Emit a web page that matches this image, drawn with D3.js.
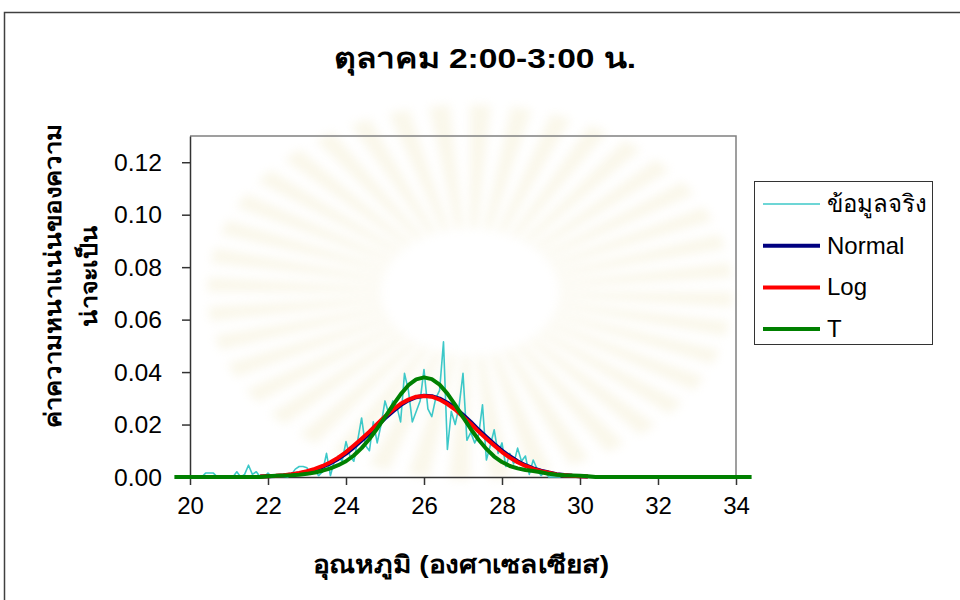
<!DOCTYPE html>
<html>
<head>
<meta charset="utf-8">
<script src="https://cdn.jsdelivr.net/npm/d3@7"></script>
<style>
  body { margin: 0; background: #fff; }
  svg { display: block; }
  text { font-family: "Liberation Sans", Arial, sans-serif; fill: #000; }
</style>
</head>
<body>
<svg id="chart" width="960" height="600"></svg>
<script>
// Labels
const chartTitle = "ตุลาคม 2:00-3:00 น.";
const xTitle = "อุณหภูมิ (องศาเซลเซียส)";
const yTitleLines = ["ค่าความหนาแน่นของความ", "น่าจะเป็น"];
const seriesNames = ["ข้อมูลจริง", "Normal", "Log", "T"];
const seriesColors = ["#3cc8c8", "#000080", "#ff0000", "#008000"];

// Tick labels
const xTicks = [20, 22, 24, 26, 28, 30, 32, 34];
const yTicks = [0, 0.02, 0.04, 0.06, 0.08, 0.10, 0.12];

// Observed data (temperature, density)
const actualX = [20.0, 20.1, 20.2, 20.3, 20.4, 20.5, 20.6, 20.7, 20.8, 20.9,
  21.0, 21.1, 21.2, 21.3, 21.4, 21.5, 21.6, 21.7, 21.8, 21.9,
  22.0, 22.1, 22.2, 22.3, 22.4, 22.5, 22.6, 22.7, 22.8, 22.9,
  23.0, 23.1, 23.2, 23.3, 23.4, 23.5, 23.6, 23.7, 23.8, 23.9,
  24.0, 24.1, 24.2, 24.3, 24.4, 24.5, 24.6, 24.7, 24.8, 24.9,
  25.0, 25.1, 25.2, 25.3, 25.4, 25.5, 25.6, 25.7, 25.8, 25.9,
  26.0, 26.1, 26.2, 26.3, 26.4, 26.5, 26.6, 26.7, 26.8, 26.9,
  27.0, 27.1, 27.2, 27.3, 27.4, 27.5, 27.6, 27.7, 27.8, 27.9,
  28.0, 28.1, 28.2, 28.3, 28.4, 28.5, 28.6, 28.7, 28.8, 28.9,
  29.0, 29.1, 29.2, 29.3, 29.4, 29.5];
const actualY = [0, 0, 0, 0, 0.0015, 0.0015, 0.0015, 0, 0, 0,
  0, 0, 0.002, 0, 0.001, 0.0045, 0.001, 0.002, 0, 0,
  0.0015, 0, 0, 0, 0, 0, 0.001, 0.003, 0.004, 0.004,
  0.0035, 0.001, 0.0025, 0.0005, 0.002, 0.009, 0.0005, 0.006, 0.008, 0.006,
  0.0135, 0.008, 0.006, 0.014, 0.0225, 0.012, 0.010, 0.021, 0.013, 0.020,
  0.029, 0.024, 0.029, 0.027, 0.021, 0.0395, 0.033, 0.021, 0.025, 0.029,
  0.041, 0.026, 0.023, 0.030, 0.033, 0.0515, 0.0105, 0.025, 0.020, 0.027,
  0.0395, 0.014, 0.017, 0.013, 0.016, 0.0275, 0.0065, 0.012, 0.018, 0.009,
  0.013, 0.004, 0.009, 0.005, 0.011, 0.006, 0.008, 0.001, 0.0065, 0.003,
  0.0005, 0.002, 0, 0, 0, 0];

// Fitted curves
const fitX = [21.8, 22.0, 22.2, 22.4, 22.6, 22.8, 23.0, 23.2, 23.4, 23.6,
  23.8, 24.0, 24.2, 24.4, 24.6, 24.8, 25.0, 25.2, 25.4, 25.6,
  25.8, 26.0, 26.2, 26.4, 26.6, 26.8, 27.0, 27.2, 27.4, 27.6,
  27.8, 28.0, 28.2, 28.4, 28.6, 28.8, 29.0, 29.2, 29.4, 29.6,
  29.8, 30.0, 30.2];
const normalY = [0.00015, 0.00024, 0.00039, 0.0006, 0.00092, 0.00136, 0.00198, 0.0028, 0.0039, 0.0052,
  0.0069, 0.0089, 0.0113, 0.0139, 0.0166, 0.0195, 0.0224, 0.025, 0.0274, 0.0292,
  0.0304, 0.031, 0.0308, 0.0299, 0.0283, 0.0263, 0.0237, 0.021, 0.018, 0.0153,
  0.0126, 0.0101, 0.0079, 0.006, 0.0045, 0.0033, 0.0024, 0.0017, 0.0011, 0.00075,
  0.00048, 0.0003, 0.0002];
const logY = [0.00017, 0.00028, 0.00044, 0.00068, 0.00103, 0.0015, 0.0022, 0.0031, 0.0042, 0.0056,
  0.0074, 0.0095, 0.012, 0.0146, 0.0173, 0.0202, 0.0231, 0.0256, 0.0279, 0.0295,
  0.0306, 0.0309, 0.0306, 0.0295, 0.0278, 0.0257, 0.023, 0.0203, 0.0173, 0.0146,
  0.012, 0.0095, 0.0074, 0.0056, 0.0042, 0.0031, 0.0022, 0.0016, 0.001, 0.0007,
  0.00044, 0.00028, 0.00017];
const tX = [19.6, 21.8, 22.0, 22.2, 22.4, 22.6, 22.8, 23.0, 23.2, 23.4, 23.6,
  23.8, 24.0, 24.2, 24.4, 24.6, 24.8, 25.0, 25.2, 25.4, 25.6,
  25.8, 26.0, 26.2, 26.4, 26.6, 26.8, 27.0, 27.2, 27.4, 27.6,
  27.8, 28.0, 28.2, 28.4, 28.6, 28.8, 29.0, 29.2, 29.4, 29.6,
  29.8, 30.0, 30.2, 30.4, 34.4];
const tY = [0, 0, 0.0003, 0.0005, 0.0006, 0.0007, 0.0009, 0.0012, 0.0017, 0.0024, 0.0033,
  0.0045, 0.006, 0.0082, 0.011, 0.0145, 0.0185, 0.0228, 0.0273, 0.0315, 0.035,
  0.0372, 0.038, 0.0373, 0.0352, 0.0318, 0.0275, 0.0228, 0.0183, 0.0142, 0.0107,
  0.0078, 0.0057, 0.0042, 0.0033, 0.0027, 0.0023, 0.0018, 0.0012, 0.0009, 0.0007,
  0.0006, 0.0005, 0.0003, 0, 0];

const series = [
  { name: seriesNames[0], color: seriesColors[0], width: 1.6, xs: actualX, ys: actualY },
  { name: seriesNames[1], color: seriesColors[1], width: 4, xs: fitX, ys: normalY },
  { name: seriesNames[2], color: seriesColors[2], width: 4, xs: fitX, ys: logY },
  { name: seriesNames[3], color: seriesColors[3], width: 4, xs: tX, ys: tY }
];

const svg = d3.select("#chart");

// very faint watermark behind the plot (sun-ray emblem)
svg.append("defs").append("filter").attr("id", "soft")
  .append("feGaussianBlur").attr("stdDeviation", 5);
const wm = svg.append("g")
  .attr("transform", "translate(470,292)")
  .attr("opacity", 0.3)
  .attr("filter", "url(#soft)");
d3.range(40).forEach(i => {
  const a = (i / 40) * 2 * Math.PI;
  wm.append("path")
    .attr("d", d3.arc()({ innerRadius: 85, outerRadius: 250, startAngle: a, endAngle: a + 0.08 }))
    .attr("fill", "#efe6bd")
    .attr("transform", "scale(1.05,0.75)");
});

// outer chart border
svg.append("rect")
  .attr("x", 4.5).attr("y", 12.5)
  .attr("width", 970).attr("height", 600)
  .attr("fill", "none").attr("stroke", "#404040").attr("stroke-width", 1.5);

// plot area
const plot = { left: 190, right: 736, top: 136, bottom: 477 };

const x = d3.scaleLinear().domain([20, 34]).range([plot.left, plot.right]);
const y = d3.scaleLinear().domain([0, 0.13]).range([plot.bottom, plot.top]);

// top and right frame of plot area
svg.append("path")
  .attr("d", `M${plot.left},${plot.top}H${plot.right}V${plot.bottom}`)
  .attr("fill", "none").attr("stroke", "#808080").attr("stroke-width", 1.5);

// Axes
const xAxis = d3.axisBottom(x).tickValues(xTicks).tickFormat(d3.format("d"))
  .tickSizeInner(8).tickSizeOuter(0).tickPadding(12);
const yAxis = d3.axisLeft(y).tickValues(yTicks).tickFormat(d3.format(".2f"))
  .tickSizeInner(8).tickSizeOuter(0).tickPadding(20);

const gx = svg.append("g")
  .attr("transform", `translate(0,${plot.bottom})`)
  .call(xAxis);
const gy = svg.append("g")
  .attr("transform", `translate(${plot.left},0)`)
  .call(yAxis);

[gx, gy].forEach(g => {
  g.select(".domain").attr("stroke", "#333").attr("stroke-width", 1.5);
  g.selectAll(".tick line").attr("stroke", "#333").attr("stroke-width", 1.5);
  g.selectAll(".tick text").attr("font-size", 23).attr("fill", "#000")
    .style("font-family", '"Liberation Sans", Arial, sans-serif');
});
gy.selectAll(".tick text").attr("dy", "0.36em")
  .attr("textLength", 48).attr("lengthAdjust", "spacingAndGlyphs");
gx.selectAll(".tick text").attr("font-size", 24);

// Series lines
const line = d3.line().x(d => x(d[0])).y(d => y(d[1]));
series.forEach(s => {
  svg.append("path")
    .datum(s.xs.map((v, i) => [v, s.ys[i]]))
    .attr("d", line)
    .attr("fill", "none")
    .attr("stroke", s.color)
    .attr("stroke-width", s.width)
    .attr("stroke-linejoin", "round");
});

// Title
svg.append("text")
  .attr("x", 485).attr("y", 68)
  .attr("text-anchor", "middle")
  .attr("font-size", 28).attr("font-weight", "bold")
  .attr("textLength", 302).attr("lengthAdjust", "spacingAndGlyphs")
  .text(chartTitle);

// X axis title
svg.append("text")
  .attr("x", 461).attr("y", 573)
  .attr("text-anchor", "middle")
  .attr("font-size", 24).attr("font-weight", "bold")
  .attr("textLength", 296).attr("lengthAdjust", "spacingAndGlyphs")
  .text(xTitle);

// Y axis title (two lines, rotated)
const yTitleLen = [304, 102];
yTitleLines.forEach((t, i) => {
  svg.append("text")
    .attr("transform", "translate(0,276) rotate(-90)")
    .attr("x", 0).attr("y", 61 + i * 36)
    .attr("text-anchor", "middle")
    .attr("font-size", 23).attr("font-weight", "bold")
    .attr("textLength", yTitleLen[i]).attr("lengthAdjust", "spacingAndGlyphs")
    .text(t);
});

// Legend
const legend = svg.append("g");
legend.append("rect")
  .attr("x", 754.5).attr("y", 181.5)
  .attr("width", 178).attr("height", 163)
  .attr("fill", "#fff").attr("stroke", "#333").attr("stroke-width", 1);
series.forEach((s, i) => {
  const ly = 204 + i * 41.7;
  legend.append("line")
    .attr("x1", 763).attr("x2", 820)
    .attr("y1", ly).attr("y2", ly)
    .attr("stroke", s.color).attr("stroke-width", s.width);
  legend.append("text")
    .attr("x", 827).attr("y", ly + 8)
    .attr("font-size", 24)
    .text(s.name);
});
</script>
</body>
</html>
